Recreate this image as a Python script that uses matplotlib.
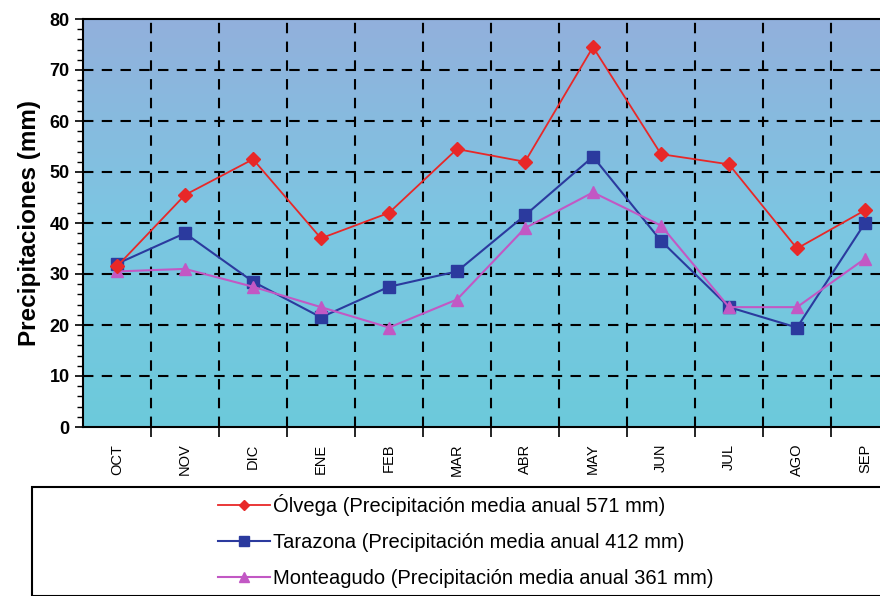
import numpy as np
import matplotlib.pyplot as plt
from matplotlib.patches import Rectangle
from matplotlib.colors import LinearSegmentedColormap

plt.rcParams['font.family'] = ['Liberation Sans', 'DejaVu Sans']

meses = ['OCT', 'NOV', 'DIC', 'ENE', 'FEB', 'MAR', 'ABR', 'MAY', 'JUN', 'JUL', 'AGO', 'SEP']
olvega = [31.5, 45.5, 52.5, 37, 42, 54.5, 52, 74.5, 53.5, 51.5, 35, 42.5]
tarazona = [32, 38, 28.5, 21.5, 27.5, 30.5, 41.5, 53, 36.5, 23.5, 19.5, 40]
monteagudo = [30.5, 31, 27.5, 23.5, 19.5, 25, 39, 46, 39.5, 23.5, 23.5, 33]
etiquetas = ['Ólvega (Precipitación media anual 571 mm)',
             'Tarazona (Precipitación media anual 412 mm)',
             'Monteagudo (Precipitación media anual 361 mm)']

fig = plt.figure(figsize=(8.8, 5.96), dpi=100)
ax = fig.add_axes([83/880, 1 - 427/596, 816/880, 408/596])

x = np.arange(len(meses))
# fondo degradado
grad = np.linspace(0, 1, 256).reshape(-1, 1)
cmap = LinearSegmentedColormap.from_list('bg', ['#6ccadb', '#7cc6e2', '#92b0dc'])
ax.imshow(grad, aspect='auto', cmap=cmap, origin='lower',
          extent=[-0.5, len(meses) - 0.5, 0, 80], zorder=0)

ax.plot(x, olvega, color='#e82828', lw=1.3, marker='D', ms=7, label=etiquetas[0], zorder=4)
ax.plot(x, tarazona, color='#2b3a9e', lw=1.5, marker='s', ms=9, label=etiquetas[1], zorder=3)
ax.plot(x, monteagudo, color='#c258c4', lw=1.5, marker='^', ms=9, label=etiquetas[2], zorder=3)

ax.set_xlim(-0.5, len(meses) - 0.5)
ax.set_ylim(0, 80)
ax.set_yticks(range(0, 81, 10))
ax.set_yticks(range(0, 81, 2), minor=True)
ax.set_xticks(x)
ax.set_xticklabels(meses, rotation=90, fontsize=10.5)
ax.set_xticks(x[:-1] + 0.5, minor=True)
ax.tick_params(axis='x', which='major', length=0, pad=12)
ax.tick_params(axis='x', which='minor', length=7, width=1.2, direction='out')
ax.tick_params(axis='y', which='major', length=6, width=1.2, direction='out', labelsize=13)
ax.tick_params(axis='y', which='minor', length=4, width=1, direction='out')
for lab in ax.get_yticklabels():
    lab.set_fontweight('bold')

for v in x[:-1] + 0.5:
    ax.axvline(v, color='black', ls=(0, (5, 4)), lw=1.5, zorder=1)
for h in range(10, 80, 10):
    ax.axhline(h, color='black', ls=(0, (5, 4)), lw=1.5, zorder=1)
for s in ax.spines.values():
    s.set_linewidth(1.5)

ax.set_ylabel('Precipitaciones (mm)', fontsize=17.5, fontweight='bold', labelpad=6)

# caja de la leyenda
fig.patches.append(Rectangle((32/880, 0), 1.0, 109/596, transform=fig.transFigure,
                             facecolor='white', edgecolor='black', lw=1.5))
fig.legend(loc='center left', bbox_to_anchor=(200/880, 1 - 541/596), frameon=False,
           fontsize=14.5, handlelength=2.6, labelspacing=0.85, handletextpad=0.1,
           markerscale=0.8)

fig.savefig('out.png', dpi=100)
